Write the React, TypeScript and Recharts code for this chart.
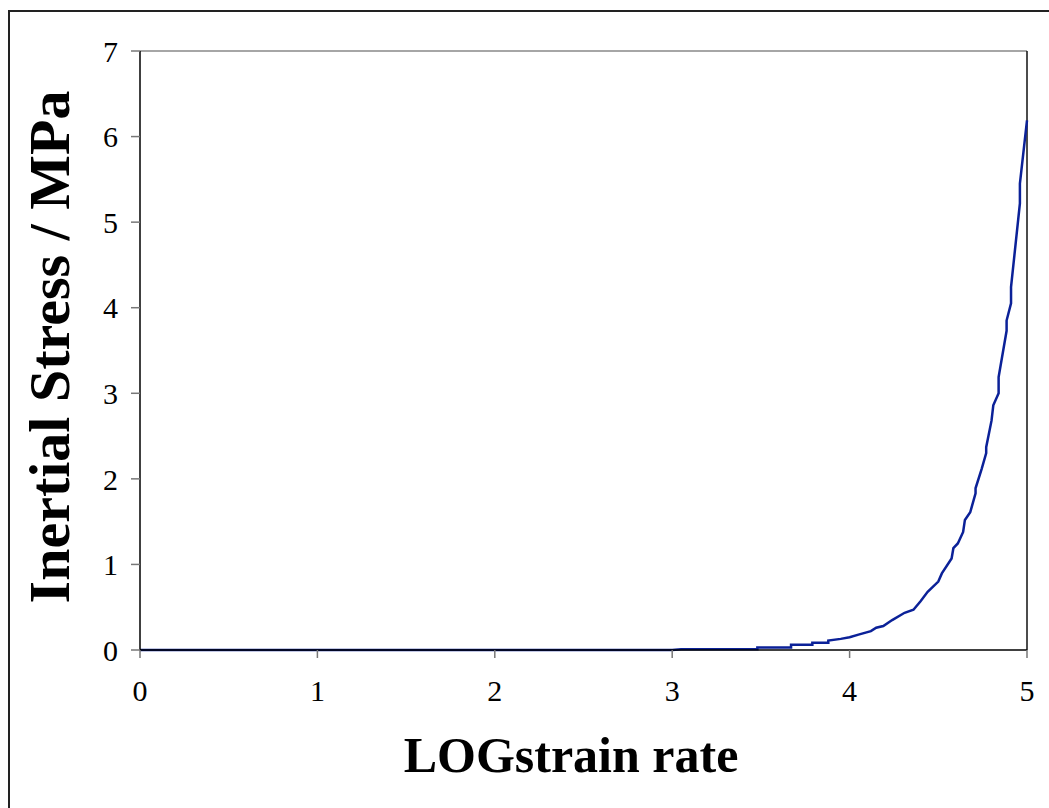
import { LineChart, Line, XAxis, YAxis, ReferenceLine } from 'recharts';

// log10 strain rate (x) against inertial stress in MPa (y)
const logStrainRate = [
  0, 1, 2, 3, 3.05, 3.48, 3.48, 3.67, 3.67, 3.79, 3.79, 3.88, 3.88, 3.95, 4.0,
  4.05, 4.12, 4.15, 4.19, 4.24, 4.31, 4.36, 4.4, 4.44, 4.5, 4.52, 4.575, 4.585,
  4.61, 4.64, 4.65, 4.68, 4.71, 4.71, 4.745, 4.77, 4.77, 4.8, 4.81, 4.84, 4.84,
  4.885, 4.885, 4.91, 4.91, 4.96, 4.96, 5.0,
];
const inertialStress = [
  0, 0, 0, 0, 0.01, 0.01, 0.03, 0.03, 0.06, 0.06, 0.085, 0.085, 0.11, 0.13, 0.15,
  0.18, 0.22, 0.26, 0.28, 0.35, 0.435, 0.47, 0.57, 0.68, 0.8, 0.895, 1.07, 1.19,
  1.245, 1.38, 1.52, 1.61, 1.83, 1.89, 2.12, 2.3, 2.37, 2.68, 2.86, 3.0, 3.19,
  3.73, 3.85, 4.05, 4.24, 5.22, 5.45, 6.19,
];
const xTicks = [0, 1, 2, 3, 4, 5];
const yTicks = [0, 1, 2, 3, 4, 5, 6, 7];

const data = logStrainRate.map((x, i) => ({ x, stress: inertialStress[i] }));

const FONT = '"Liberation Serif", "Times New Roman", serif';
const tickStyle = { fontFamily: FONT, fontSize: 30, fill: '#000' };

export default function App() {
  return (
    <div
      style={{
        position: 'absolute',
        left: 0,
        top: 0,
        width: 1049,
        height: 808,
        overflow: 'hidden',
        background: '#fff',
      }}
    >
      {/* outer frame, only left and top edges fall inside the canvas */}
      <div
        style={{
          position: 'absolute',
          left: 8,
          top: 10,
          width: 1200,
          height: 1000,
          borderLeft: '2px solid #222',
          borderTop: '2px solid #222',
        }}
      />
      <LineChart
        width={1049}
        height={808}
        data={data}
        margin={{ top: 51, right: 22, bottom: 98, left: 0 }}
        style={{ position: 'absolute', left: 0, top: 0 }}
      >
        <XAxis
          type="number"
          dataKey="x"
          domain={[0, 5]}
          ticks={xTicks}
          height={60}
          tickSize={8}
          tickMargin={22}
          axisLine={{ stroke: '#000', strokeWidth: 1.5 }}
          tickLine={{ stroke: '#777', strokeWidth: 1.5 }}
          tick={tickStyle}
        />
        <YAxis
          type="number"
          domain={[0, 7]}
          ticks={yTicks}
          width={140}
          tickSize={9}
          tickMargin={13}
          axisLine={{ stroke: '#000', strokeWidth: 1.5 }}
          tickLine={{ stroke: '#777', strokeWidth: 1.5 }}
          tick={tickStyle}
        />
        <ReferenceLine y={7} stroke="#888" strokeWidth={1.5} />
        <ReferenceLine x={5} stroke="#111" strokeWidth={1.5} />
        <Line
          type="linear"
          dataKey="stress"
          stroke="#0b2198"
          strokeWidth={2.5}
          dot={false}
          isAnimationActive={false}
        />
      </LineChart>
      <div
        style={{
          position: 'absolute',
          left: 371,
          top: 730,
          width: 400,
          textAlign: 'center',
          fontFamily: FONT,
          fontWeight: 'bold',
          fontSize: 50,
          lineHeight: 1,
          whiteSpace: 'nowrap',
        }}
      >
        LOGstrain rate
      </div>
      <div
        style={{
          position: 'absolute',
          left: 50 - 300,
          top: 347 - 29,
          width: 600,
          height: 58,
          textAlign: 'center',
          fontFamily: FONT,
          fontWeight: 'bold',
          fontSize: 58,
          lineHeight: 1,
          whiteSpace: 'nowrap',
          transform: 'rotate(-90deg)',
        }}
      >
        Inertial Stress / MPa
      </div>
    </div>
  );
}
